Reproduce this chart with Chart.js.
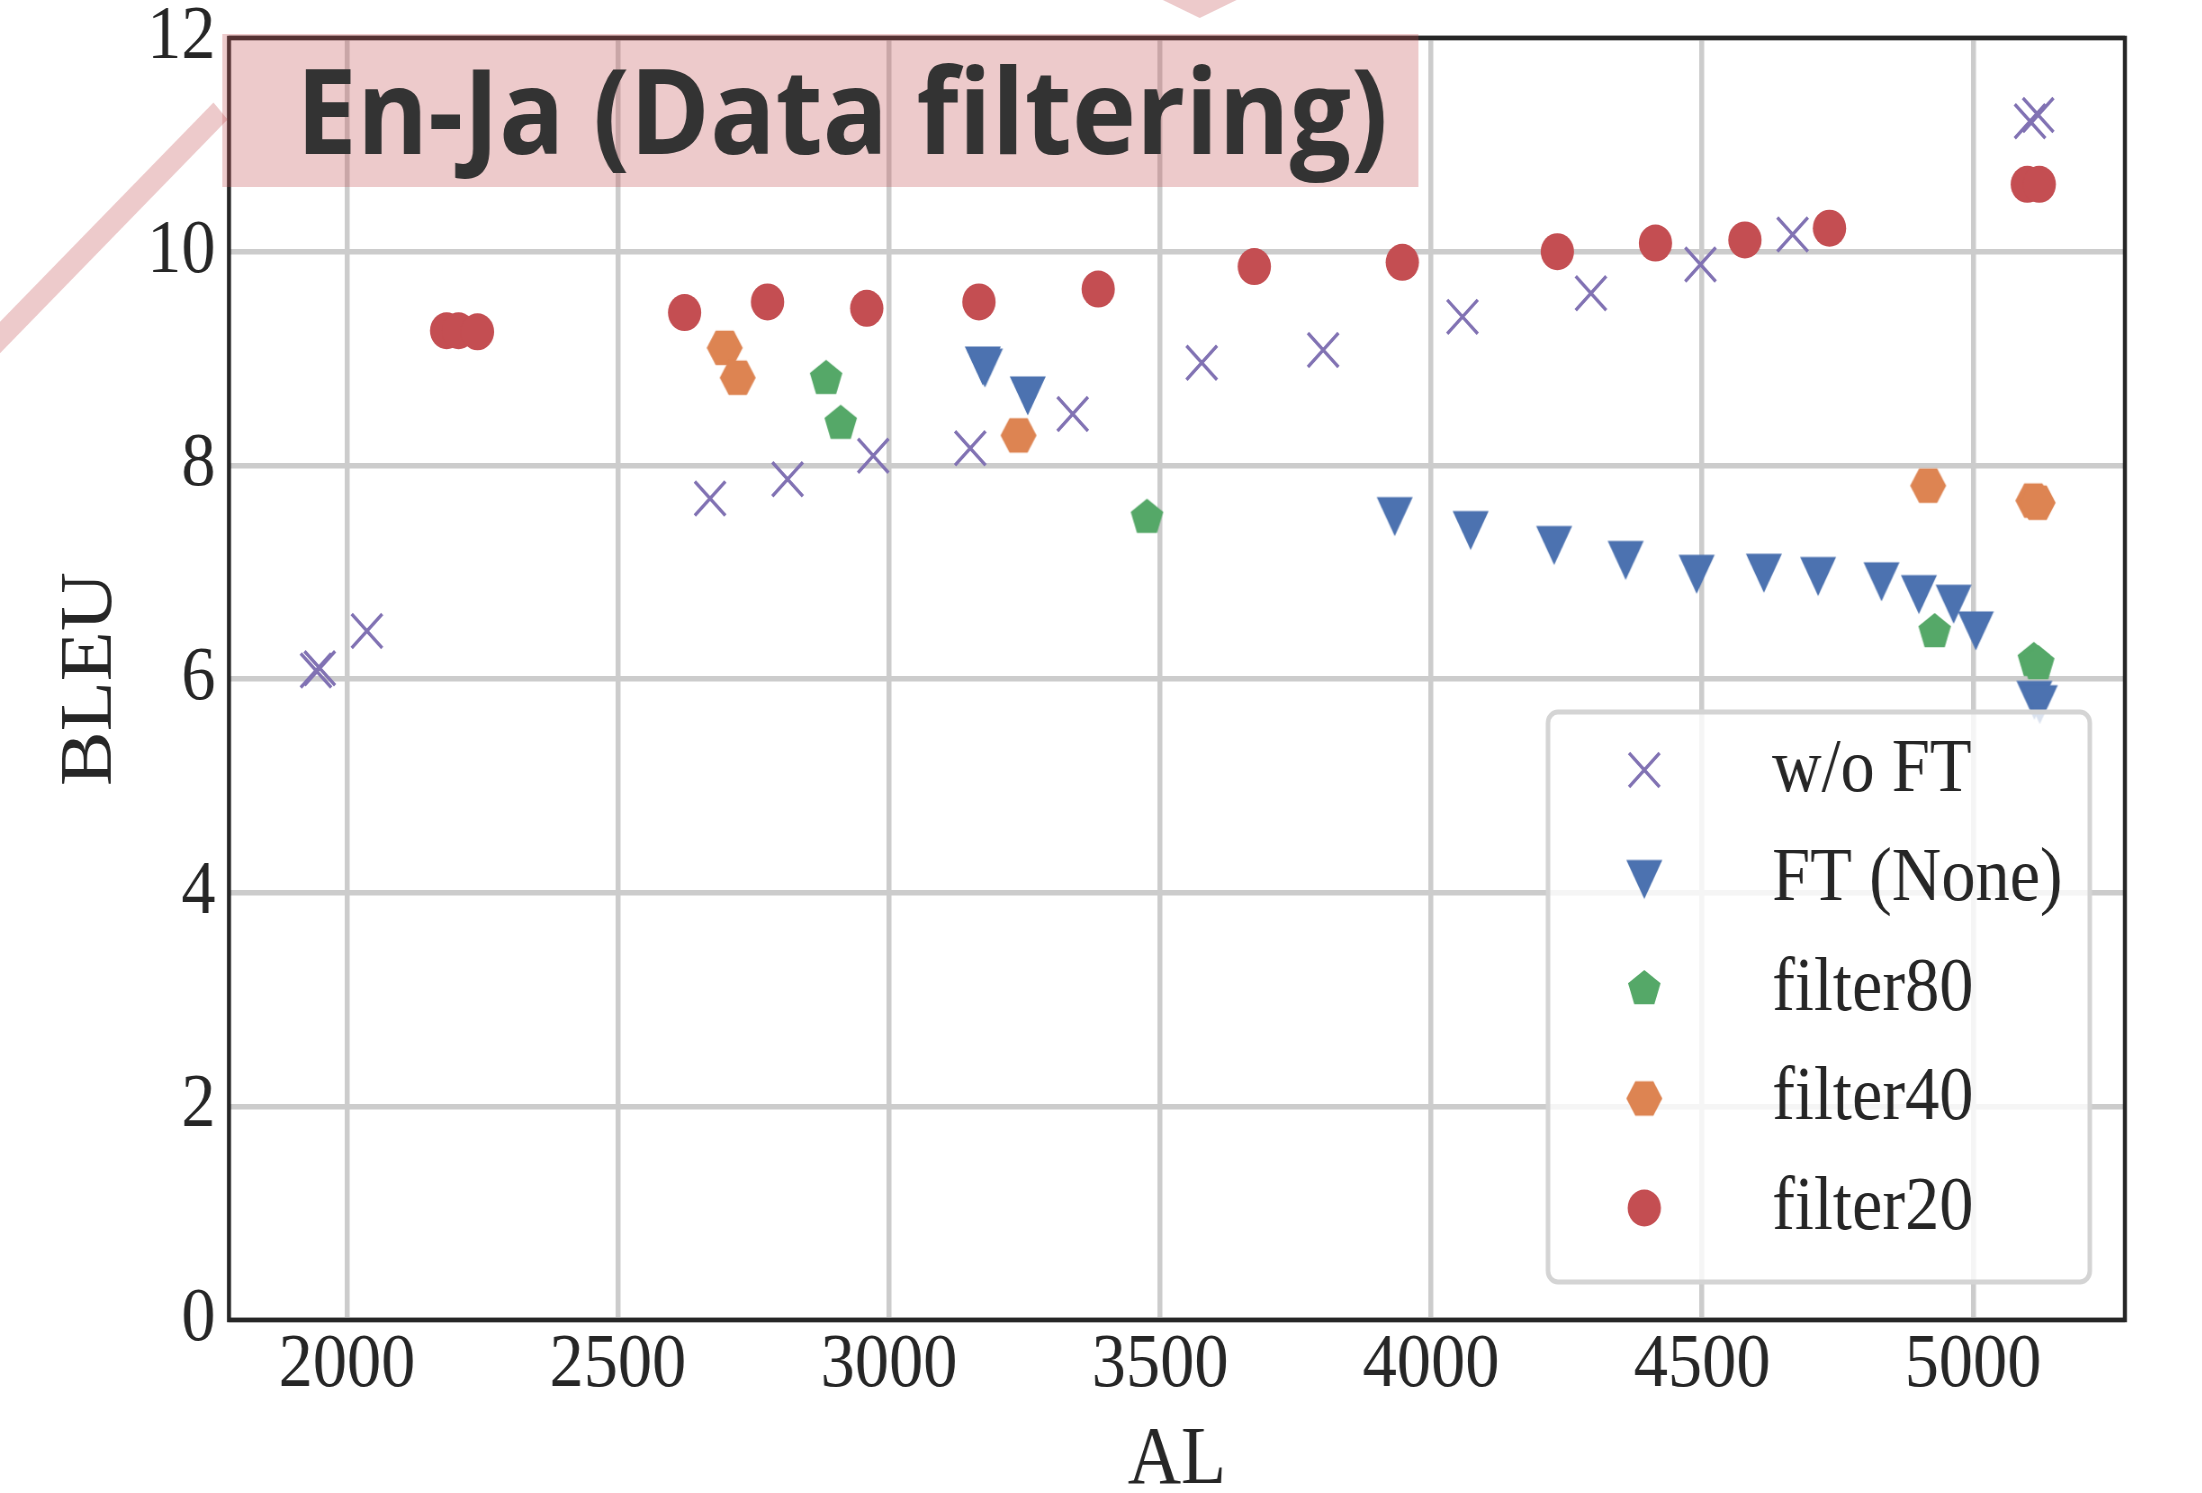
<!DOCTYPE html>
<html>
<head>
<meta charset="utf-8">
<title>En-Ja (Data filtering)</title>
<script src="https://cdn.jsdelivr.net/npm/chart.js@4.4.1/dist/chart.umd.min.js"></script>
<style>
    html, body { margin: 0; padding: 0; background: #ffffff; overflow: hidden; }
    #wrap { width: 2202px; height: 1493px; position: relative; overflow: hidden; }
    /* the source figure is squeezed horizontally, so draw wide and squeeze */
    #chart { position: absolute; left: 0; top: 0; transform: scaleX(0.9); transform-origin: 0 0; }
</style>
</head>
<body>
<div id="wrap"><canvas id="chart" width="2447" height="1493"></canvas></div>
<script>
// ===== DATA =====
const xTicks = [2000, 2500, 3000, 3500, 4000, 4500, 5000];
const yTicks = [0, 2, 4, 6, 8, 10, 12];

const seriesLabels = ['w/o FT', 'FT (None)', 'filter80', 'filter40', 'filter20'];

const woFtAL   = [1943, 1950, 2037, 2670, 2813, 2971, 3150, 3339, 3577, 3801, 4058, 4295, 4497, 4667, 5105, 5120];
const woFtBLEU = [6.08, 6.10, 6.45, 7.69, 7.87, 8.09, 8.16, 8.48, 8.96, 9.08, 9.39, 9.61, 9.88, 10.16, 11.22, 11.28];

const ftNoneAL   = [3173, 3177, 3256, 3933, 4073, 4227, 4359, 4490, 4614, 4714, 4831, 4900, 4964, 5005, 5113, 5123];
const ftNoneBLEU = [8.93, 8.91, 8.65, 7.52, 7.39, 7.25, 7.11, 6.98, 6.99, 6.96, 6.91, 6.79, 6.70, 6.45, 5.80, 5.76];

const filter80AL   = [2884, 2911, 3476, 4929, 5112, 5120];
const filter80BLEU = [8.81, 8.39, 7.51, 6.44, 6.17, 6.14];

const filter40AL   = [2697, 2721, 3239, 4917, 5111, 5119];
const filter40BLEU = [9.10, 8.82, 8.28, 7.81, 7.67, 7.65];

const filter20AL   = [2184, 2206, 2241, 2623, 2776, 2959, 3166, 3386, 3674, 3947, 4233, 4414, 4579, 4735, 5100, 5122];
const filter20BLEU = [9.26, 9.26, 9.25, 9.43, 9.53, 9.47, 9.53, 9.65, 9.86, 9.90, 10.00, 10.08, 10.11, 10.22, 10.63, 10.63];

// ===== STYLE =====
const PURPLE = '#8172B3';
const BLUE = '#4C72B0';
const GREEN = '#55A868';
const ORANGE = '#DD8452';
const RED = '#C44E52';
const INK = '#262626';
const PINK = 'rgba(196, 78, 82, 0.3)';
const SERIF = "'Liberation Serif', 'Times New Roman', serif";

const toPoints = (xs, ys) => xs.map((x, i) => ({ x: x, y: ys[i] }));

// matplotlib-like filled markers that Chart.js does not have
function makeMarker(color, size, drawPath) {
    const c = document.createElement('canvas');
    c.width = size;
    c.height = size;
    const g = c.getContext('2d');
    g.translate(size / 2, size / 2);
    g.beginPath();
    drawPath(g);
    g.closePath();
    g.fillStyle = color;
    g.fill();
    return c;
}

function regularPolygon(g, n, r, startDeg) {
    for (let k = 0; k < n; k++) {
        const a = (startDeg + k * 360 / n) * Math.PI / 180;
        const px = Math.cos(a) * r;
        const py = Math.sin(a) * r;
        if (k === 0) g.moveTo(px, py); else g.lineTo(px, py);
    }
}

const triangleDown = makeMarker(BLUE, 46, g => {
    g.moveTo(-20, -19.5);
    g.lineTo(20, -19.5);
    g.lineTo(0, 19.5);
});
const pentagon = makeMarker(GREEN, 44, g => regularPolygon(g, 5, 19, -90));
const hexagon = makeMarker(ORANGE, 46, g => regularPolygon(g, 6, 20, 0));

// ===== OVERLAYS: frame, legend, title box, slide decorations =====
const overlayPlugin = {
    id: 'overlay',
    afterDraw(chart) {
        const { ctx, chartArea: a } = chart;
        ctx.save();

        // axes frame
        ctx.strokeStyle = INK;
        ctx.lineWidth = 4.5;
        ctx.strokeRect(a.left, a.top, a.right - a.left, a.bottom - a.top);

        // legend box
        const lx = 1720, ly = 712, lw = 602, lh = 570, lr = 11;
        ctx.beginPath();
        ctx.moveTo(lx + lr, ly);
        ctx.lineTo(lx + lw - lr, ly);
        ctx.arcTo(lx + lw, ly, lx + lw, ly + lr, lr);
        ctx.lineTo(lx + lw, ly + lh - lr);
        ctx.arcTo(lx + lw, ly + lh, lx + lw - lr, ly + lh, lr);
        ctx.lineTo(lx + lr, ly + lh);
        ctx.arcTo(lx, ly + lh, lx, ly + lh - lr, lr);
        ctx.lineTo(lx, ly + lr);
        ctx.arcTo(lx, ly, lx + lr, ly, lr);
        ctx.closePath();
        ctx.fillStyle = 'rgba(255, 255, 255, 0.8)';
        ctx.fill();
        ctx.strokeStyle = '#d4d4d4';
        ctx.lineWidth = 5;
        ctx.stroke();

        // legend entries
        ctx.font = `76px ${SERIF}`;
        ctx.textBaseline = 'middle';
        ctx.textAlign = 'left';
        chart.data.datasets.forEach((ds, i) => {
            const y = 770 + i * 109.5;
            ctx.fillStyle = ds.backgroundColor;
            ctx.strokeStyle = ds.borderColor;
            ctx.lineWidth = ds.borderWidth;
            Chart.helpers.drawPoint(ctx, {
                pointStyle: ds.pointStyle,
                radius: ds.pointRadius,
                rotation: 0,
                borderWidth: ds.borderWidth
            }, 1827, y);
            ctx.fillStyle = INK;
            ctx.fillText(ds.label, 1969, y + 1);
        });

        // slide decorations
        ctx.strokeStyle = PINK;
        ctx.lineWidth = 23;
        ctx.lineCap = 'butt';
        ctx.beginPath();
        ctx.moveTo(-20, 356);
        ctx.lineTo(245, 111);
        ctx.stroke();

        ctx.fillStyle = PINK;
        ctx.beginPath();
        ctx.moveTo(1292, 0);
        ctx.lineTo(1374, 0);
        ctx.lineTo(1333, 18);
        ctx.closePath();
        ctx.fill();

        // title box
        ctx.fillRect(247, 34, 1329, 153);
        const title = 'En-Ja (Data filtering)';
        ctx.font = "bold 118px 'Open Sans', 'Noto Sans', sans-serif";
        ctx.textBaseline = 'alphabetic';
        const tw = ctx.measureText(title).width;
        ctx.translate(329, 154);
        ctx.scale(1213 / tw, 1);
        ctx.fillStyle = '#333333';
        ctx.fillText(title, 0, 0);

        ctx.restore();
    }
};

// ===== CHART =====
const tickFont = { family: SERIF, size: 76, lineHeight: 1.2 };

new Chart(document.getElementById('chart'), {
    type: 'scatter',
    data: {
        datasets: [
            {
                label: seriesLabels[0],
                data: toPoints(woFtAL, woFtBLEU),
                pointStyle: 'crossRot',
                pointRadius: 24,
                borderColor: PURPLE,
                backgroundColor: PURPLE,
                borderWidth: 3.5,
                order: 5
            },
            {
                label: seriesLabels[1],
                data: toPoints(ftNoneAL, ftNoneBLEU),
                pointStyle: triangleDown,
                pointRadius: 20,
                borderColor: BLUE,
                backgroundColor: BLUE,
                borderWidth: 0,
                order: 4
            },
            {
                label: seriesLabels[2],
                data: toPoints(filter80AL, filter80BLEU),
                pointStyle: pentagon,
                pointRadius: 19,
                borderColor: GREEN,
                backgroundColor: GREEN,
                borderWidth: 0,
                order: 3
            },
            {
                label: seriesLabels[3],
                data: toPoints(filter40AL, filter40BLEU),
                pointStyle: hexagon,
                pointRadius: 20,
                borderColor: ORANGE,
                backgroundColor: ORANGE,
                borderWidth: 0,
                order: 2
            },
            {
                label: seriesLabels[4],
                data: toPoints(filter20AL, filter20BLEU),
                pointStyle: 'circle',
                pointRadius: 18.5,
                borderColor: RED,
                backgroundColor: RED,
                borderWidth: 0,
                order: 1
            }
        ]
    },
    options: {
        responsive: false,
        animation: false,
        devicePixelRatio: 1,
        events: [],
        layout: { padding: { left: 0, top: 38, right: 86, bottom: 0 } },
        plugins: {
            legend: { display: false },
            tooltip: { enabled: false }
        },
        scales: {
            x: {
                type: 'linear',
                min: 1782.5,
                max: 5280,
                afterBuildTicks: s => { s.ticks = xTicks.map(v => ({ value: v })); },
                afterFit: s => { s.height = 173; s.paddingLeft = 0; s.paddingRight = 0; },
                grid: { color: '#cccccc', lineWidth: 5.5, drawTicks: false },
                border: { display: false },
                ticks: {
                    font: tickFont,
                    color: INK,
                    padding: 0,
                    maxRotation: 0,
                    autoSkip: false,
                    callback: v => String(v)
                },
                title: {
                    display: true,
                    text: 'AL',
                    color: INK,
                    font: { family: SERIF, size: 82, lineHeight: 0.76 },
                    padding: { top: 0, bottom: 0 }
                }
            },
            y: {
                type: 'linear',
                min: 0,
                max: 12,
                afterBuildTicks: s => { s.ticks = yTicks.map(v => ({ value: v })); },
                afterFit: s => { s.width = 254.4; s.paddingTop = 0; s.paddingBottom = 0; },
                grid: { color: '#cccccc', lineWidth: 5.5, drawTicks: false },
                border: { display: false },
                ticks: {
                    font: tickFont,
                    color: INK,
                    padding: 15,
                    callback: v => String(v)
                },
                title: {
                    display: true,
                    text: 'BLEU',
                    color: INK,
                    font: { family: SERIF, size: 82, lineHeight: 1.2 },
                    padding: { top: 52, bottom: 0 }
                }
            }
        }
    },
    plugins: [overlayPlugin]
});
</script>
</body>
</html>
